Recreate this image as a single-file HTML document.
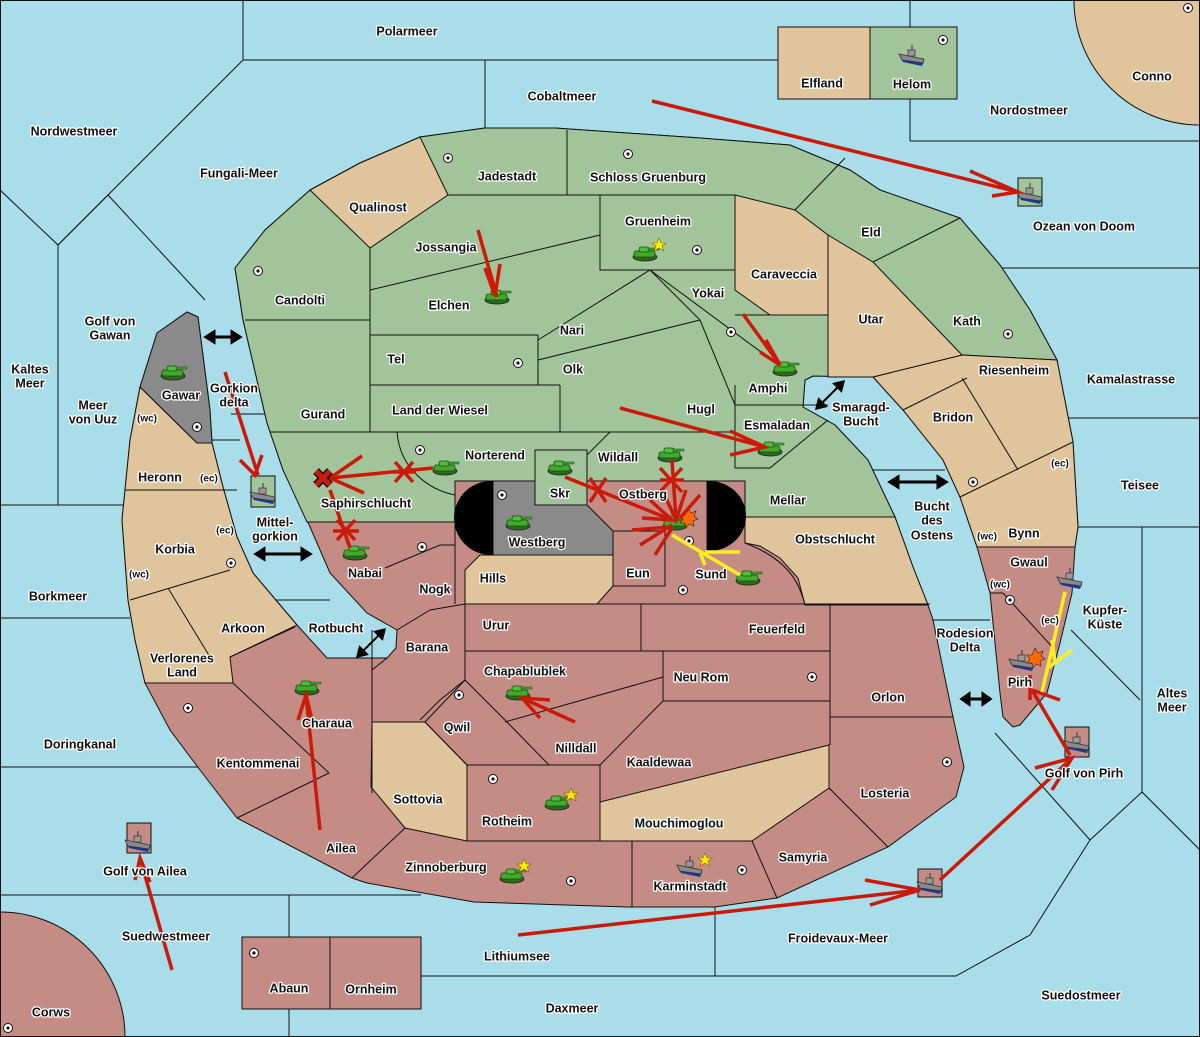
<!DOCTYPE html>
<html><head><meta charset="utf-8"><style>
html,body{margin:0;padding:0;background:#a9dde9;width:1200px;height:1037px;overflow:hidden;}
svg{display:block}
text{font-family:"Liberation Sans",sans-serif;font-weight:bold;font-size:12.5px;fill:#111;stroke:#fff;stroke-width:2.5px;paint-order:stroke;stroke-linejoin:round;text-anchor:middle;dominant-baseline:middle}
.b{fill:none;stroke:#111;stroke-width:1}
.r{stroke:#cc1a0a;stroke-width:3.5;fill:none;stroke-linecap:butt}
.y{stroke:#ffee22;stroke-width:3.5;fill:none}
</style></head><body>
<svg width="1200" height="1037" viewBox="0 0 1200 1037" xmlns="http://www.w3.org/2000/svg">
<defs>
<g id="tank"><ellipse cx="0" cy="3" rx="12" ry="4" fill="#2c6a1c" stroke="#222" stroke-width="0.8"/><rect x="-11" y="-3" width="21" height="6" rx="2" fill="#3faa2c" stroke="#1a4a10" stroke-width="0.8"/><rect x="-6" y="-7" width="10" height="5" rx="2" fill="#4cc03a" stroke="#1a4a10" stroke-width="0.8"/><rect x="3" y="-6" width="11" height="2" fill="#3faa2c" stroke="#1a4a10" stroke-width="0.5"/></g>
<g id="ship"><path d="M-12,0 L12,4 L10,9 L-9,5 Z" fill="#1a3a9a"/><path d="M-13,-3 L12,2 L11,6 L-10,3 Z" fill="#8a8a8a" stroke="#333" stroke-width="0.8"/><rect x="-4" y="-7" width="7" height="6" fill="#999" stroke="#333" stroke-width="0.7"/><line x1="0" y1="-12" x2="0" y2="-7" stroke="#333"/></g>
<g id="dot"><circle r="4.5" fill="#fff" stroke="#111" stroke-width="1"/><circle r="1.6" fill="#111"/></g>
<path id="star" d="M0,-7 L2,-2 L7,-2 L3,1 L5,6 L0,3 L-5,6 L-3,1 L-7,-2 L-2,-2Z" fill="#ffee00" stroke="#886600" stroke-width="0.6"/>
</defs>
<rect width="1200" height="1037" fill="#a9dde9"/>
<g class="b">
<polyline points="243,0 243,60 778,60"/><line x1="485" y1="60" x2="485" y2="128"/>
<line x1="243" y1="60" x2="58" y2="245"/><polyline points="0,190 58,245 58,505"/><polyline points="58,245 108,195 205,300"/>
<line x1="910" y1="0" x2="910" y2="27"/><line x1="910" y1="99" x2="910" y2="141"/><line x1="910" y1="141" x2="1200" y2="141"/>
<line x1="1000" y1="268" x2="1200" y2="268"/><line x1="1060" y1="418" x2="1200" y2="418"/><line x1="1078" y1="527" x2="1200" y2="527"/>
<polyline points="1142,527 1142,792 1200,850"/><polyline points="1142,792 1090,840 995,733"/><line x1="1071" y1="630" x2="1140" y2="700"/>
<polyline points="1090,840 1030,935 956,976 421,976"/><line x1="715" y1="907" x2="715" y2="976"/>
<line x1="0" y1="895" x2="421" y2="895"/><line x1="289" y1="895" x2="289" y2="1037"/>
<line x1="0" y1="618" x2="130" y2="618"/><line x1="0" y1="767" x2="203" y2="767"/><line x1="0" y1="505" x2="125" y2="505"/>
<line x1="200" y1="440" x2="240" y2="440" /><line x1="240" y1="600" x2="330" y2="600"/><line x1="231" y1="414" x2="268" y2="414"/>
<line x1="845" y1="470" x2="945" y2="470"/><line x1="930" y1="620" x2="990" y2="620"/>
</g>
<ellipse cx="1200" cy="0" rx="126" ry="125" fill="#e0c49c" stroke="#111"/>
<circle cx="0" cy="1037" r="125" fill="#c48c84" stroke="#111"/>
<polygon fill="#c48c84" stroke="#111" points="235,268 265,230 310,190 360,163 420,137 485,128 555,128 700,138 790,145 850,170 880,190 960,218 1000,265 1030,310 1057,360 1073,442 1078,527 1075,547 1072,593 1060,643 1047,693 1020,725 1013,727 1003,717 1000,693 990,593 977,547 960,497 943,460 903,410 873,377 813,376 805,380 803,407 835,425 868,460 895,517 913,567 928,605 933,620 953,717 964,767 956,797 888,847 777,898 715,907 627,907 474,902 367,883 352,878 237,818 200,770 170,730 145,683 135,640 128,600 125,560 122,520 125,490 130,440 140,387 157,333 187,312 198,317 210,410 212,443 223,487 237,537 253,573 297,625 327,658 387,658 396,648 397,630 367,613 330,573 307,520 283,470 267,423 243,320"/>
<polygon fill="#a2c49a" stroke="#111" points="235,268 265,230 310,190 360,163 420,137 485,128 555,128 700,138 790,145 850,170 880,190 960,218 1000,265 1030,310 1057,360 962,355 873,377 813,376 805,380 803,407 835,425 868,460 895,517 745,517 745,481 587,481 587,505 535,505 535,481 455,481 455,522 307,522 283,470 267,423 243,320"/>
<g fill="#e0c49c" stroke="#111">
<polygon points="962,355 1057,360 1073,442 1078,527 1075,547 977,547 960,497 943,460 903,410 873,377"/>
<polygon points="310,190 360,163 420,137 448,195 370,248"/>
<polygon points="735,195 795,210 828,235 828,315 770,315 735,290"/>
<polygon points="828,235 873,262 962,355 873,377 828,377"/>
<polygon points="140,387 197,443 212,443 223,487 237,537 253,573 297,625 230,657 233,683 145,683 135,640 128,600 125,560 122,520 125,490 130,440"/>
<polygon points="745,517 895,517 913,567 928,605 805,605 798,578 780,558 760,546 745,543"/>
<polygon points="480,555 613,555 613,586 597,604 465,604 465,570"/>
<polygon points="372,722 425,722 467,765 467,841 405,828 371,787"/>
<polygon points="600,802 829,745 829,788 752,841 600,841"/>
</g>
<polygon fill="#8a8a8a" stroke="#111" points="140,387 157,333 187,312 198,317 210,410 212,443 197,443"/>
<polygon fill="#8a8a8a" stroke="#111" points="493,481 535,481 535,505 587,505 613,531 613,555 493,555"/>
<path d="M493,481 L491,481 A37,37 0 0 0 491,555 L493,555 Z" fill="#000"/>
<path d="M707,481 L709,481 A37,35 0 0 1 709,551 L707,551 Z" fill="#000"/>
<rect x="535" y="450" width="52" height="55" fill="#a2c49a" stroke="#111"/>
<rect x="613" y="531" width="52" height="55" fill="#c48c84" stroke="#111"/>
<g class="b">
<line x1="567" y1="130" x2="567" y2="195"/><polyline points="448,195 735,195"/><polyline points="600,195 600,270 735,270 735,195"/>
<line x1="795" y1="210" x2="845" y2="158"/><line x1="873" y1="262" x2="960" y2="218"/>
<line x1="370" y1="248" x2="370" y2="432"/><line x1="245" y1="320" x2="370" y2="320"/><line x1="270" y1="432" x2="735" y2="432"/>
<line x1="370" y1="290" x2="600" y2="235"/><line x1="370" y1="335" x2="538" y2="335"/><line x1="370" y1="385" x2="560" y2="385"/><line x1="538" y1="335" x2="538" y2="385"/>
<polyline points="538,340 650,270 765,355"/><line x1="538" y1="360" x2="700" y2="320"/><line x1="560" y1="385" x2="560" y2="432"/>
<line x1="650" y1="270" x2="700" y2="320"/><line x1="700" y1="320" x2="735" y2="405"/><polyline points="735,315 828,315"/>
<polyline points="735,405 828,405"/><polyline points="735,405 735,468 770,468 828,420"/><line x1="735" y1="385" x2="735" y2="405"/>
<path d="M397,432 C400,470 430,490 455,495"/><polyline points="590,432 610,432 587,455"/>
<line x1="707" y1="481" x2="707" y2="551"/>
<path d="M745,543 C790,560 800,585 805,605"/>
<polyline points="465,604 930,604"/><line x1="641" y1="604" x2="641" y2="651"/><line x1="465" y1="651" x2="830" y2="651"/>
<line x1="830" y1="604" x2="830" y2="745"/><line x1="830" y1="788" x2="830" y2="790"/><line x1="830" y1="717" x2="953" y2="717"/>
<polyline points="663,651 663,701 830,701"/><line x1="663" y1="677" x2="505" y2="722"/>
<polyline points="465,604 465,680 425,722"/><line x1="465" y1="680" x2="507" y2="722"/><polyline points="425,722 467,765 600,765 600,841 467,841 467,765"/>
<line x1="549" y1="765" x2="507" y2="722"/><polyline points="663,701 600,765"/>
<line x1="372" y1="630" x2="372" y2="793"/><line x1="387" y1="658" x2="372" y2="670"/>
<line x1="455" y1="522" x2="455" y2="604"/><polyline points="397,630 430,610 465,604"/><polyline points="385,568 440,545 455,545"/>
<polyline points="420,720 440,700 465,680"/>
<line x1="829" y1="788" x2="888" y2="847"/><line x1="752" y1="841" x2="777" y2="898"/><line x1="632" y1="841" x2="632" y2="907"/>
<line x1="405" y1="828" x2="352" y2="878"/><line x1="329" y1="773" x2="237" y2="818"/><line x1="233" y1="683" x2="329" y2="773"/>
<line x1="230" y1="657" x2="295" y2="627"/><line x1="125" y1="490" x2="237" y2="490"/><line x1="130" y1="600" x2="230" y2="570"/><line x1="168" y1="588" x2="210" y2="657"/>
<line x1="977" y1="547" x2="1075" y2="547"/><line x1="960" y1="497" x2="1073" y2="442"/><line x1="962" y1="378" x2="1018" y2="470"/><line x1="903" y1="410" x2="967" y2="378"/>
<line x1="990" y1="593" x2="1003" y2="593"/><line x1="1003" y1="593" x2="1055" y2="650"/>
</g>
<rect x="778" y="27" width="92" height="72" fill="#e0c49c" stroke="#111"/><rect x="870" y="27" width="87" height="72" fill="#a2c49a" stroke="#111"/>
<rect x="242" y="937" width="88" height="72" fill="#c48c84" stroke="#111"/><rect x="330" y="937" width="91" height="72" fill="#c48c84" stroke="#111"/>
<rect x="1018" y="178" width="24" height="28" fill="#a2c49a" stroke="#111"/>
<rect x="251" y="476" width="24" height="31" fill="#a2c49a" stroke="#111"/>
<rect x="1065" y="727" width="24" height="30" fill="#c48c84" stroke="#111"/>
<rect x="127" y="823" width="24" height="30" fill="#c48c84" stroke="#111"/>
<rect x="918" y="869" width="24" height="28" fill="#c48c84" stroke="#111"/>
<g>
<use href="#dot" x="943" y="40"/><use href="#dot" x="448" y="158"/><use href="#dot" x="628" y="154"/><use href="#dot" x="697" y="250"/><use href="#dot" x="258" y="271"/><use href="#dot" x="731" y="332"/><use href="#dot" x="1008" y="334"/><use href="#dot" x="518" y="363"/><use href="#dot" x="197" y="427"/><use href="#dot" x="420" y="450"/><use href="#dot" x="502" y="495"/><use href="#dot" x="973" y="482"/><use href="#dot" x="689" y="541"/><use href="#dot" x="422" y="547"/><use href="#dot" x="231" y="563"/><use href="#dot" x="683" y="590"/><use href="#dot" x="812" y="677"/><use href="#dot" x="459" y="695"/><use href="#dot" x="188" y="708"/><use href="#dot" x="947" y="762"/><use href="#dot" x="493" y="779"/><use href="#dot" x="571" y="881"/><use href="#dot" x="742" y="870"/><use href="#dot" x="254" y="953"/><use href="#dot" x="8" y="1028"/><use href="#dot" x="1010" y="600"/><use href="#dot" x="1188" y="8"/>
</g>
<g>
<use href="#tank" x="173" y="373"/><use href="#tank" x="497" y="297"/><use href="#tank" x="645" y="254"/><use href="#tank" x="785" y="369"/><use href="#tank" x="770" y="449"/><use href="#tank" x="445" y="468"/><use href="#tank" x="560" y="468"/><use href="#tank" x="670" y="455"/><use href="#tank" x="518" y="523"/><use href="#tank" x="355" y="553"/><use href="#tank" x="675" y="523"/><use href="#tank" x="748" y="578"/><use href="#tank" x="307" y="688"/><use href="#tank" x="518" y="693"/><use href="#tank" x="557" y="803"/><use href="#tank" x="512" y="876"/>
<use href="#ship" x="1030" y="195"/><use href="#ship" x="912" y="57"/><use href="#ship" x="263" y="495"/><use href="#ship" x="1070" y="580"/><use href="#ship" x="1022" y="662"/><use href="#ship" x="1077" y="744"/><use href="#ship" x="138" y="843"/><use href="#ship" x="930" y="885"/><use href="#ship" x="690" y="868"/>
<use href="#star" x="659" y="245"/><use href="#star" x="571" y="795"/><use href="#star" x="524" y="866"/><use href="#star" x="705" y="860"/>
<path d="M688,508 l3,5 5,-2 -2,5 4,3 -5,2 1,5 -5,-2 -3,4 -1,-5 -5,0 3,-4 -3,-4 5,0z" fill="#ff6a00" stroke="#222" stroke-width="0.6"/>
<path d="M1035,648 l3,5 5,-2 -2,5 4,3 -5,2 1,5 -5,-2 -3,4 -1,-5 -5,0 3,-4 -3,-4 5,0z" fill="#ff6a00" stroke="#222" stroke-width="0.6"/>
</g>
<g class="r">
<line x1="652" y1="101" x2="1018" y2="192"/><polyline points="970,171 1018,192 992,196"/>
<line x1="478" y1="230" x2="497" y2="297"/><polyline points="485,268 495,296 500,264"/>
<line x1="743" y1="314" x2="780" y2="365"/><polyline points="766,340 780,365 760,352"/>
<line x1="620" y1="408" x2="765" y2="447"/><polyline points="730,431 765,447 730,455"/>
<line x1="433" y1="468" x2="330" y2="478"/><polyline points="362,456 330,478 364,493"/>
<line x1="225" y1="372" x2="258" y2="475"/><polyline points="240,460 255,475 262,455"/>
<line x1="330" y1="490" x2="350" y2="548"/>
<line x1="565" y1="477" x2="672" y2="520"/><polyline points="650,500 672,520 642,518"/>
<line x1="672" y1="460" x2="676" y2="520"/><polyline points="665,496 676,520 686,490"/>
<line x1="640" y1="545" x2="672" y2="525"/><line x1="655" y1="555" x2="672" y2="528"/><line x1="632" y1="530" x2="670" y2="527"/><line x1="700" y1="495" x2="680" y2="518"/>
<line x1="575" y1="722" x2="522" y2="698"/><polyline points="540,718 522,698 550,700"/>
<line x1="320" y1="830" x2="306" y2="695"/><polyline points="298,720 306,695 312,720"/>
<line x1="172" y1="970" x2="140" y2="858"/><polyline points="135,880 140,858 150,882"/>
<line x1="518" y1="935" x2="920" y2="890"/><polyline points="865,880 920,890 870,905"/>
<line x1="940" y1="880" x2="1072" y2="758"/><polyline points="1035,768 1072,758 1052,790"/>
<line x1="1070" y1="755" x2="1032" y2="690"/><line x1="1030" y1="700" x2="1030" y2="675"/><line x1="1032" y1="690" x2="1060" y2="700"/>
</g>
<g class="r" stroke-width="5">
<path d="M395,462 L413,482 M413,462 L395,482 M394,472 L416,472"/>
<path d="M337,520 L355,540 M355,520 L337,540 M333,531 L359,531"/>
<path d="M590,478 L606,502 M606,478 L590,502"/>
<path d="M660,468 L682,492 M682,468 L660,492 M660,480 L684,480"/>
</g>
<path d="M316,471 L330,485 M330,471 L316,485" stroke="#111" stroke-width="8"/><path d="M316,471 L330,485 M330,471 L316,485" stroke="#cc1a0a" stroke-width="5"/>
<g class="y">
<line x1="740" y1="575" x2="672" y2="535"/><line x1="705" y1="552" x2="740" y2="552"/><line x1="700" y1="553" x2="705" y2="565"/>
<line x1="1065" y1="592" x2="1042" y2="692"/><line x1="1072" y1="650" x2="1048" y2="668"/><line x1="1052" y1="640" x2="1055" y2="662"/>
</g>
<g stroke="#000" stroke-width="3" fill="#000">
<line x1="212" y1="337" x2="234" y2="337"/><path d="M206,337 l8,-5 v10z M240,337 l-8,-5 v10z"/>
<line x1="262" y1="554" x2="304" y2="554"/><path d="M256,554 l8,-5 v10z M310,554 l-8,-5 v10z"/>
<line x1="896" y1="482" x2="940" y2="482"/><path d="M890,482 l8,-5 v10z M946,482 l-8,-5 v10z"/>
<line x1="966" y1="699" x2="986" y2="699"/><path d="M962,699 l7,-5 v10z M990,699 l-7,-5 v10z"/>
<line x1="362" y1="652" x2="380" y2="634" stroke-width="2"/><path d="M358,656 l2,-8 6,6z M384,630 l-2,8 -6,-6z"/>
<line x1="821" y1="404" x2="839" y2="386" stroke-width="2"/><path d="M817,408 l2,-8 6,6z M843,382 l-2,8 -6,-6z"/>
</g>
<g>
<text x="407" y="32">Polarmeer</text><text x="562" y="97">Cobaltmeer</text><text x="822" y="84">Elfland</text><text x="912" y="85">Helom</text><text x="1152" y="77">Conno</text><text x="1029" y="111">Nordostmeer</text><text x="74" y="132">Nordwestmeer</text><text x="239" y="174">Fungali-Meer</text><text x="507" y="177">Jadestadt</text><text x="648" y="178">Schloss Gruenburg</text><text x="378" y="208">Qualinost</text><text x="1084" y="227">Ozean von Doom</text><text x="658" y="222">Gruenheim</text><text x="871" y="233">Eld</text><text x="446" y="248">Jossangia</text><text x="784" y="275">Caraveccia</text><text x="300" y="301">Candolti</text><text x="708" y="294">Yokai</text><text x="449" y="306">Elchen</text>
<text x="110" y="322">Golf von</text><text x="110" y="336">Gawan</text><text x="871" y="320">Utar</text><text x="967" y="322">Kath</text><text x="572" y="331">Nari</text><text x="396" y="360">Tel</text><text x="573" y="370">Olk</text><text x="30" y="370">Kaltes</text><text x="30" y="384">Meer</text><text x="1014" y="371">Riesenheim</text><text x="1131" y="380">Kamalastrasse</text><text x="768" y="389">Amphi</text><text x="181" y="396">Gawar</text><text x="234" y="389">Gorkion</text><text x="234" y="403">delta</text><text x="93" y="406">Meer</text><text x="93" y="420">von Uuz</text><text x="861" y="408">Smaragd-</text><text x="861" y="422">Bucht</text><text x="440" y="411">Land der Wiesel</text><text x="701" y="410">Hugl</text><text x="323" y="415">Gurand</text><text x="953" y="418">Bridon</text><text x="147" y="419" style="font-size:10px">(wc)</text><text x="777" y="426">Esmaladan</text><text x="495" y="456">Norterend</text><text x="618" y="458">Wildall</text><text x="1060" y="464" style="font-size:10px">(ec)</text><text x="160" y="478">Heronn</text><text x="209" y="479" style="font-size:10px">(ec)</text><text x="1140" y="486">Teisee</text><text x="560" y="494">Skr</text><text x="643" y="495">Ostberg</text><text x="366" y="504">Saphirschlucht</text><text x="788" y="501">Mellar</text><text x="932" y="507">Bucht</text><text x="932" y="521">des</text><text x="932" y="536">Ostens</text><text x="275" y="523">Mittel-</text><text x="275" y="537">gorkion</text><text x="225" y="531" style="font-size:10px">(ec)</text><text x="1024" y="534">Bynn</text><text x="987" y="537" style="font-size:10px">(wc)</text><text x="835" y="540">Obstschlucht</text><text x="537" y="543">Westberg</text><text x="175" y="550">Korbia</text><text x="365" y="574">Nabai</text><text x="139" y="575" style="font-size:10px">(wc)</text><text x="638" y="574">Eun</text><text x="711" y="575">Sund</text><text x="1029" y="563">Gwaul</text><text x="493" y="579">Hills</text><text x="1000" y="585" style="font-size:10px">(wc)</text><text x="435" y="590">Nogk</text><text x="58" y="597">Borkmeer</text><text x="1105" y="611">Kupfer-</text><text x="1105" y="625">Küste</text><text x="496" y="626">Urur</text><text x="777" y="630">Feuerfeld</text><text x="243" y="629">Arkoon</text><text x="336" y="629">Rotbucht</text><text x="1050" y="621" style="font-size:10px">(ec)</text><text x="965" y="634">Rodesion</text><text x="965" y="648">Delta</text><text x="427" y="648">Barana</text><text x="182" y="659">Verlorenes</text><text x="182" y="673">Land</text><text x="525" y="672">Chapablublek</text><text x="701" y="678">Neu Rom</text><text x="1020" y="683">Pirh</text><text x="888" y="698">Orlon</text><text x="1172" y="694">Altes</text><text x="1172" y="708">Meer</text><text x="457" y="728">Qwil</text><text x="327" y="724">Charaua</text><text x="576" y="749">Nilldall</text><text x="80" y="745">Doringkanal</text><text x="659" y="763">Kaaldewaa</text><text x="258" y="764">Kentommenai</text><text x="1084" y="774">Golf von Pirh</text><text x="885" y="794">Losteria</text><text x="418" y="800">Sottovia</text><text x="507" y="822">Rotheim</text><text x="679" y="824">Mouchimoglou</text><text x="341" y="849">Ailea</text><text x="803" y="858">Samyria</text><text x="446" y="868">Zinnoberburg</text><text x="145" y="872">Golf von Ailea</text><text x="690" y="887">Karminstadt</text><text x="166" y="937">Suedwestmeer</text><text x="838" y="939">Froidevaux-Meer</text><text x="517" y="957">Lithiumsee</text><text x="289" y="989">Abaun</text><text x="371" y="990">Ornheim</text><text x="1081" y="996">Suedostmeer</text><text x="572" y="1009">Daxmeer</text><text x="51" y="1013">Corws</text>
</g>
<rect x="0.5" y="0.5" width="1199" height="1036" fill="none" stroke="#111"/>
</svg>
</body></html>
